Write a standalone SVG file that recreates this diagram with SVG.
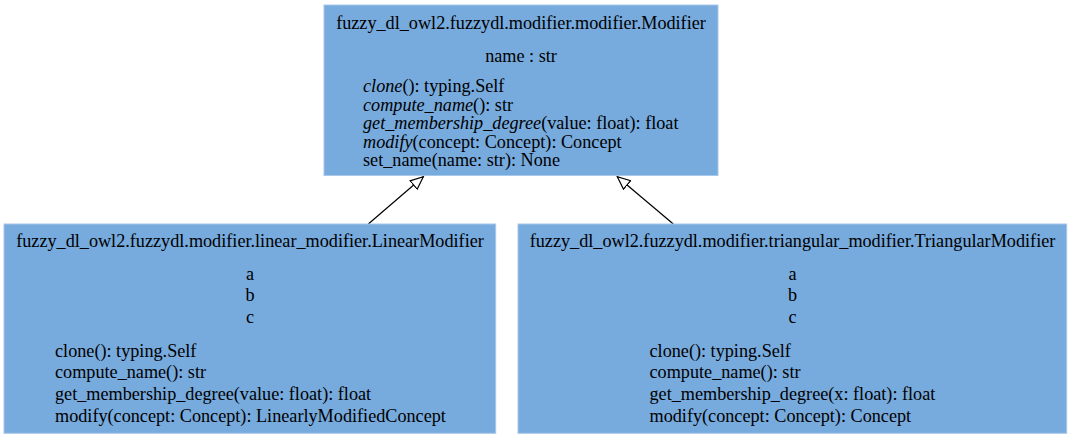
<svg xmlns="http://www.w3.org/2000/svg" width="1072" height="439" viewBox="0 0 1072 439">
<style>
.box{fill:#77aadd;stroke:#a8c8ea;stroke-width:1}
text{font-family:"Liberation Serif","Times New Roman",serif;font-size:18.2px;fill:#000}
.c{text-anchor:middle}
.i{font-style:italic}
.edge{stroke:#000;stroke-width:1.2;fill:none}
</style>
<defs>
<marker id="inh" markerUnits="userSpaceOnUse" markerWidth="16" markerHeight="14" refX="13.3" refY="6" orient="auto" viewBox="0 0 16 12">
<path d="M0.5,0.5 L13.3,6 L0.5,11.5 Z" fill="#fff" stroke="#000" stroke-width="1.2"/>
</marker>
</defs>
<rect width="1072" height="439" fill="#fff"/>
<g id="connectors">
<path class="edge" d="M368.3,224 L423.3,176.7" marker-end="url(#inh)"/>
<path class="edge" d="M673.3,224 L617.3,176.7" marker-end="url(#inh)"/>
</g>
<g id="node-modifier">
<rect class="box" x="324" y="5" width="394" height="170.5"/>
<text class="c" x="521" y="28.8">fuzzy_dl_owl2.fuzzydl.modifier.modifier.Modifier</text>
<text class="c" x="521" y="61.7">name : str</text>
<text x="363" y="92.3"><tspan class="i">clone</tspan>(): typing.Self</text>
<text x="363" y="110.8"><tspan class="i">compute_name</tspan>(): str</text>
<text x="363" y="129.3"><tspan class="i">get_membership_degree</tspan>(value: float): float</text>
<text x="363" y="147.8"><tspan class="i">modify</tspan>(concept: Concept): Concept</text>
<text x="363" y="166.3">set_name(name: str): None</text>
</g>
<g id="node-linear">
<rect class="box" x="4" y="224" width="491.7" height="209.3"/>
<text class="c" x="250" y="246.7">fuzzy_dl_owl2.fuzzydl.modifier.linear_modifier.LinearModifier</text>
<text class="c" x="250" y="280">a</text>
<text class="c" x="250" y="301.3">b</text>
<text class="c" x="250" y="322.7">c</text>
<text x="55" y="356.7">clone(): typing.Self</text>
<text x="55" y="378.3">compute_name(): str</text>
<text x="55" y="400.3">get_membership_degree(value: float): float</text>
<text x="55" y="422.3">modify(concept: Concept): LinearlyModifiedConcept</text>
</g>
<g id="node-triangular">
<rect class="box" x="518" y="224" width="548.7" height="209.3"/>
<text class="c" x="792.5" y="246.7">fuzzy_dl_owl2.fuzzydl.modifier.triangular_modifier.TriangularModifier</text>
<text class="c" x="792.5" y="280">a</text>
<text class="c" x="792.5" y="301.3">b</text>
<text class="c" x="792.5" y="322.7">c</text>
<text x="649.5" y="356.7">clone(): typing.Self</text>
<text x="649.5" y="378.3">compute_name(): str</text>
<text x="649.5" y="400.3">get_membership_degree(x: float): float</text>
<text x="649.5" y="422.3">modify(concept: Concept): Concept</text>
</g>
</svg>
